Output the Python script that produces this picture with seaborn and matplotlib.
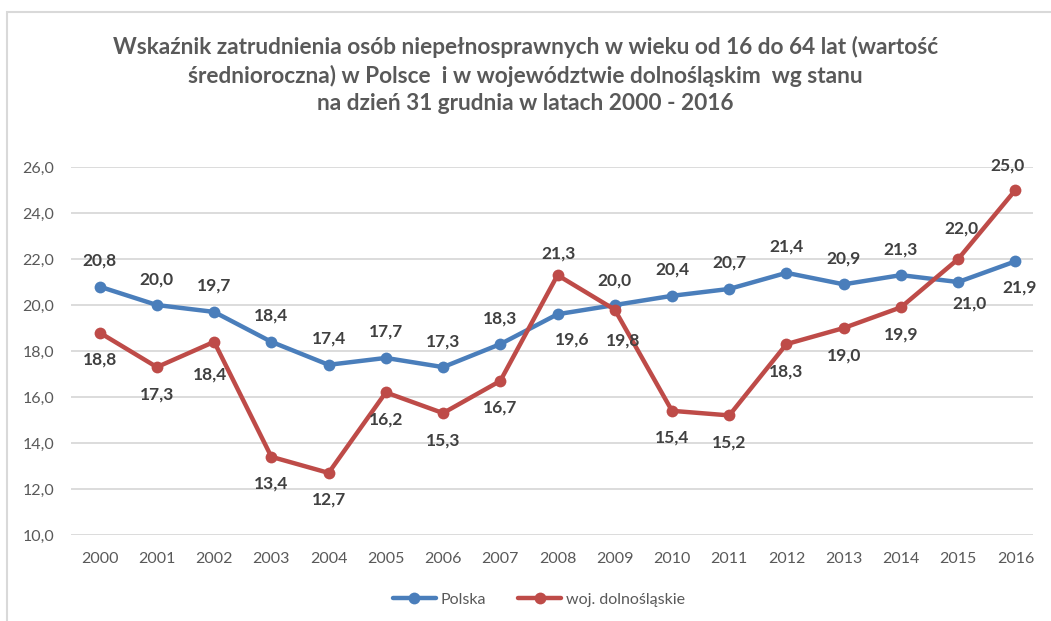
import numpy as np
import pandas as pd
import seaborn as sns
import matplotlib.pyplot as plt
from matplotlib.patches import Rectangle

years = list(range(2000, 2017))
polska = [20.8, 20.0, 19.7, 18.4, 17.4, 17.7, 17.3, 18.3, 19.6, 20.0,
          20.4, 20.7, 21.4, 20.9, 21.3, 21.0, 21.9]
dolnoslaskie = [18.8, 17.3, 18.4, 13.4, 12.7, 16.2, 15.3, 16.7, 21.3, 19.8,
                15.4, 15.2, 18.3, 19.0, 19.9, 22.0, 25.0]
series_names = ['Polska', 'woj. dolnośląskie']
title = ('Wskaźnik zatrudnienia osób niepełnosprawnych w wieku od 16 do 64 lat (wartość\n'
         'średnioroczna) w Polsce  i w województwie dolnośląskim  wg stanu\n'
         'na dzień 31 grudnia w latach 2000 - 2016')

# label placement: (dx, dy) in pixels, positive dy = above the point
pol_off = [(0, 26)] * 17
pol_off[8] = (15, -25)
pol_off[9] = (0, 25)
pol_off[15] = (11, -21)
pol_off[16] = (4, -26)
dol_off = [(0, -27)] * 17
dol_off[2] = (-4, -33)
dol_off[8] = (1, 22)
dol_off[9] = (8, -31)
dol_off[15] = (3, 31)
dol_off[16] = (-8, 25)

df = pd.DataFrame({
    'rok': years * 2,
    'wartosc': polska + dolnoslaskie,
    'seria': [series_names[0]] * len(years) + [series_names[1]] * len(years),
})

sns.set_style('white')
plt.rcParams['font.family'] = ['Lato', 'DejaVu Sans']

blue = '#4a7ebb'
red = '#be4b48'
fig = plt.figure(figsize=(10.51, 6.21), dpi=100)
ax = fig.add_axes([0.0676, 0.1385, 0.9154, 0.5925])

sns.lineplot(data=df, x='rok', y='wartosc', hue='seria', palette=[blue, red],
             marker='o', markersize=8.5, markeredgewidth=0, linewidth=3.2, ax=ax)

for vals, offs in [(polska, pol_off), (dolnoslaskie, dol_off)]:
    for x, v, (dx, dy) in zip(years, vals, offs):
        ax.annotate(f'{v:.1f}'.replace('.', ','), (x, v), xytext=(dx, dy),
                    textcoords='offset pixels', ha='center', va='center',
                    fontsize=12.5, fontweight='bold', color='#404040')

ax.set_xlim(1999.5, 2016.31)
ax.set_ylim(10, 26)
ax.set_yticks(np.arange(10, 27, 2))
ax.set_yticklabels([f'{t:.1f}'.replace('.', ',') for t in np.arange(10, 27, 2)])
ax.set_xticks(years)
ax.set_xticklabels([str(y) for y in years])
ax.tick_params(axis='both', length=0, labelsize=11.5, labelcolor='#595959')
ax.tick_params(axis='x', pad=12)
ax.tick_params(axis='y', pad=12)
ax.grid(axis='y', color='#d9d9d9', linewidth=1.3)
ax.set_axisbelow(True)
for s in ax.spines.values():
    s.set_visible(False)
ax.set_xlabel('')
ax.set_ylabel('')

ax.legend(loc='center', bbox_to_anchor=(539 / 1051, 1 - 600 / 621),
          bbox_transform=fig.transFigure, ncol=2, frameon=False,
          fontsize=11.5, labelcolor='#595959', handlelength=2.7,
          handletextpad=0.3, columnspacing=2.0)

fig.text(0.5, 1 - 75 / 621, title, ha='center', va='center', fontsize=16.3,
         fontweight='bold', color='#595959', linespacing=1.37)

fig.patches.append(Rectangle((7 / 1051, -0.1), 1.2, 1 - 12 / 621 + 0.1,
                             transform=fig.transFigure, fill=False,
                             edgecolor='#d9d9d9', linewidth=1.5))

fig.savefig('out.png', dpi=100)
